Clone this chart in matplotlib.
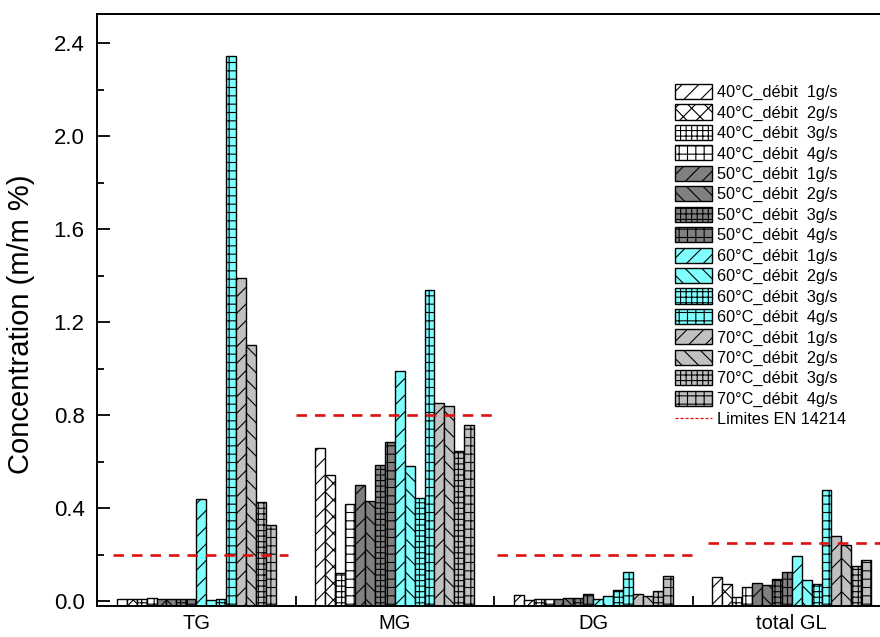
import matplotlib
matplotlib.use("Agg")

import numpy as np
import matplotlib.pyplot as plt
from matplotlib.lines import Line2D

plt.rcParams["font.family"] = ["Liberation Sans", "DejaVu Sans"]
plt.rcParams["hatch.linewidth"] = 0.8

categories = ["TG", "MG", "DG", "total GL"]
series_labels = [
    "40°C_débit  1g/s", "40°C_débit  2g/s", "40°C_débit  3g/s", "40°C_débit  4g/s",
    "50°C_débit  1g/s", "50°C_débit  2g/s", "50°C_débit  3g/s", "50°C_débit  4g/s",
    "60°C_débit  1g/s", "60°C_débit  2g/s", "60°C_débit  3g/s", "60°C_débit  4g/s",
    "70°C_débit  1g/s", "70°C_débit  2g/s", "70°C_débit  3g/s", "70°C_débit  4g/s",
]

# values per category, series in the order above
tg = [0.008, 0.008, 0.008, 0.014, 0.009, 0.009, 0.009, 0.009,
      0.438, 0.005, 0.008, 2.343, 1.392, 1.100, 0.427, 0.328]
mg = [0.661, 0.542, 0.122, 0.418, 0.502, 0.430, 0.586, 0.685,
      0.991, 0.582, 0.446, 1.338, 0.852, 0.839, 0.648, 0.757]
dg = [0.029, 0.005, 0.010, 0.008, 0.012, 0.015, 0.013, 0.033,
      0.008, 0.025, 0.048, 0.125, 0.033, 0.022, 0.043, 0.111]
gl = [0.105, 0.076, 0.019, 0.062, 0.079, 0.069, 0.094, 0.128,
      0.197, 0.092, 0.076, 0.477, 0.280, 0.244, 0.153, 0.177]

limits = [0.2, 0.8, 0.2, 0.25]
limit_label = "Limites EN 14214"

temp_colors = ["#FFFFFF", "#808080", "#80FFFF", "#C0C0C0"]
rate_hatches = ["//", "\\\\", "+++", "++"]

data = np.array([tg, mg, dg, gl])   # shape (4 categories, 16 series)

fig = plt.figure(figsize=(8.8, 6.37), dpi=100)
ax = fig.add_axes([97 / 880, 31 / 637, 794 / 880, 592 / 637])

base = -0.02
n = len(series_labels)
bw = 0.8 / n
xc = np.arange(len(categories))

handles = []
for i in range(n):
    t, r = divmod(i, 4)
    hatch = "xx" if (t == 0 and r == 1) else rate_hatches[r]
    h = ax.bar(xc - 0.4 + bw * (i + 0.5), data[:, i] - base, bw, bottom=base,
               facecolor=temp_colors[t], edgecolor="black", linewidth=1.0,
               hatch=hatch, label=series_labels[i])
    handles.append(h)

# limit lines, one per category
spans = [(-0.42, 0.46), (0.5, 1.49), (1.515, 2.497), (2.578, 3.5)]
for (x0, x1), lim in zip(spans, limits):
    ax.plot([x0, x1], [lim, lim], color="#E01010", lw=1.9,
            linestyle=(0, (4, 3)), zorder=3)

lim_handle = Line2D([], [], color="#E01010", lw=0.9, linestyle=(0, (2.5, 1.5)))

ax.set_xlim(-0.5, 3.5)
ax.set_ylim(base, 2.525)

ax.set_yticks(np.arange(0, 2.41, 0.4))
ax.set_yticks(np.arange(0.2, 2.5, 0.4), minor=True)
ax.set_yticklabels([f"{v:.1f}" for v in np.arange(0, 2.41, 0.4)])
ax.tick_params(axis="y", which="major", direction="in", length=9, width=1.3,
               labelsize=16, pad=9)
ax.tick_params(axis="y", which="minor", direction="in", length=5, width=1.3)

ax.set_xticks([0.5, 1.5, 2.5])
ax.set_xticklabels([])
ax.set_xticks(xc, minor=True)
ax.set_xticklabels(categories, minor=True)
ax.tick_params(axis="x", which="major", direction="in", length=7, width=1.3)
ax.tick_params(axis="x", which="minor", length=0, labelsize=14.5, pad=6)

for s in ax.spines.values():
    s.set_linewidth(1.4)

ax.set_ylabel("Concentration (m/m %)", fontsize=21)
ax.yaxis.set_label_coords(-0.078, 0.476)

leg = ax.legend(handles + [lim_handle], series_labels + [limit_label],
                loc="upper left", bbox_to_anchor=(675 / 880, 1 - 84 / 637),
                bbox_transform=fig.transFigure, frameon=False,
                fontsize=11.7, borderpad=0, borderaxespad=0,
                handlelength=2.28, handleheight=1.05, handletextpad=0.3,
                labelspacing=0.26)

fig.savefig("out.png", dpi=100)
plt.close(fig)
